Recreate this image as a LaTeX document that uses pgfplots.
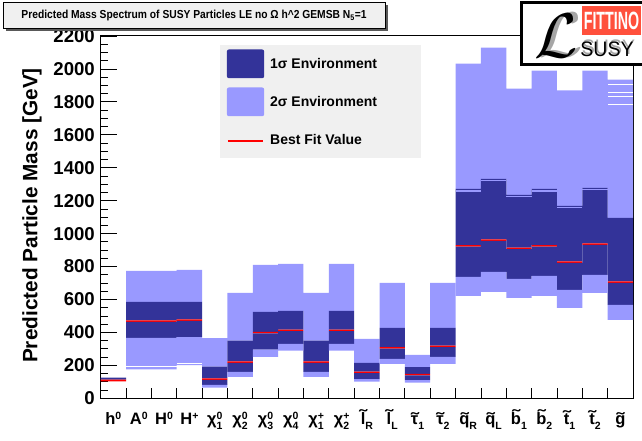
\documentclass[border=0pt]{standalone}
\usepackage{fontspec}
\setmainfont{Liberation Sans}
\usepackage{graphicx}
\usepackage{pgfplots}
\usepackage{pgfplotstable}
\pgfplotsset{compat=1.18}

\definecolor{sigone}{RGB}{51,51,153}
\definecolor{sigtwo}{RGB}{153,153,255}
\definecolor{panel}{RGB}{240,240,240}
\definecolor{logored}{RGB}{255,80,60}

% small raised / lowered indices for the particle names
\newcommand{\sups}[1]{\raisebox{5.5pt}{\fontsize{10.5}{10.5}\selectfont #1}}
\newcommand{\subs}[1]{\raisebox{-4.5pt}{\fontsize{10.5}{10.5}\selectfont #1}}
\newcommand{\ud}[2]{\rlap{\sups{#1}}\subs{#2}}
% superpartner tilde
\newcommand{\tld}[1]{\leavevmode\setbox0=\hbox{#1}%
  \setbox2=\hbox{\scalebox{1.4}[1]{\char"02DC}}%
  \rlap{\hbox to\wd0{\hss\raisebox{\dimexpr\ht0-\fontdimen5\font\relax}{\box2}\hss}}\box0}

% bin, 2-sigma low, 1-sigma low, best fit, 1-sigma high, 2-sigma high,
% drawn thickness of the best-fit line [GeV]
\pgfplotstableread{
bin lo2  lo1  best hi1  hi2  rw
1   103  103  108  125  125  10
2   176  367  468  585  774  9
3   176  367  468  585  774  9
4   202  371  474  585  780  9
5   65   81   117  192  365  9
6   130  160  219  350  640  9
7   251  296  399  525  810  9
8   290  330  413  531  816  9
9   130  160  219  350  640  9
10  290  330  413  531  816  9
11  101  117  158  215  361  9
12  209  239  306  427  701  9
13  95   111  144  190  263  9
14  209  251  316  427  701  9
15  622  738  926  1272 2032 9
16  646  768  960  1333 2130 9
17  610  725  910  1236 1880 9
18  622  743  926  1272 1990 9
19  549  658  827  1169 1870 9
20  640  750  936  1278 1990 9
21  476  567  705  1096 1935 9
}\masses

% empty slices inside the 2-sigma bands
\pgfplotstableread{
bin y
2   193
3   193
4   213
21  1905
21  1854
21  1833
21  1783
}\whitegaps

% 2-sigma slices inside the 1-sigma bands
\pgfplotstableread{
bin y
15  1259
16  1321
17  1224
18  1259
19  1158
20  1269
}\lightgaps

\begin{document}
\begin{tikzpicture}[x=1pt,y=1pt]
\useasboundingbox (0,0) rectangle (642,441);
\pgfplotsset{massframe/.style={
  scale only axis, width=532.3pt, height=362.3pt,
  at={(100.7pt,42.7pt)}, anchor=south west,
  xmin=0.5, xmax=21.5, ymin=0, ymax=2200}}

\begin{axis}[massframe,
  ybar stacked, bar width=1,
  axis line style={line width=1pt},
  tick style={black, line width=0.8pt},
  tick align=inside, tick pos=left,
  major tick length=16pt, minor tick length=7.3pt,
  xtick={0.5,1.5,...,21.5},
  xtick style={/pgfplots/major tick length=10.7pt},
  x tick label as interval,
  xticklabels={h\sups{0}, A\sups{0}, H\sups{0}, H\sups{+},
    χ\ud{0}{1}, χ\ud{0}{2}, χ\ud{0}{3}, χ\ud{0}{4}, χ\ud{+}{1}, χ\ud{+}{2},
    \tld{l}\subs{R}, \tld{l}\subs{L}, \tld{τ}\subs{1}, \tld{τ}\subs{2},
    \tld{q}\subs{R}, \tld{q}\subs{L}, \tld{b}\subs{1}, \tld{b}\subs{2},
    \tld{t}\subs{1}, \tld{t}\subs{2}, \tld{g}},
  xticklabel style={font=\bfseries\fontsize{16.5}{16.5}\selectfont, anchor=base, yshift=-26.7pt, inner sep=0pt},
  ytick={0,200,...,2200},
  minor y tick num=3,
  /pgf/number format/assume math mode=true,
  /pgf/number format/1000 sep={},
  yticklabel style={font=\bfseries\fontsize{18.6}{18.6}\selectfont, inner sep=0pt, xshift=-5.7pt},
  ylabel={Predicted Particle Mass [GeV]},
  every axis y label/.style={at={(axis description cs:-0.1191,0.5046)}, rotate=90, anchor=base,
    font=\bfseries\fontsize{20.8}{20.8}\selectfont},
  legend style={at={(axis description cs:0.2241,0.9752)}, anchor=north west,
    fill=panel, draw=none, inner xsep=6.7pt, inner ysep=4.3pt,
    row sep=9.3pt, column sep=6pt, nodes={inner sep=0pt},
    font=\bfseries\fontsize{14}{14}\selectfont},
  legend cell align=left,
]
% floating bands: invisible base, 2-sigma, 1-sigma, best fit, 1-sigma, 2-sigma
\addplot[draw=none, fill=none, forget plot] table[x=bin, y=lo2] {\masses};
\addplot[draw=none, fill=sigtwo, forget plot] table[x=bin, y expr=\thisrow{lo1}-\thisrow{lo2}] {\masses};
\addplot[draw=none, fill=sigone, forget plot] table[x=bin, y expr=\thisrow{best}-0.5*\thisrow{rw}-\thisrow{lo1}] {\masses};
\addplot[draw=none, fill=red, forget plot] table[x=bin, y=rw] {\masses};
\addplot[draw=none, fill=sigone, forget plot] table[x=bin, y expr=\thisrow{hi1}-\thisrow{best}-0.5*\thisrow{rw}] {\masses};
\addplot[draw=none, fill=sigtwo, forget plot] table[x=bin, y expr=\thisrow{hi2}-\thisrow{hi1}] {\masses};

\addlegendimage{legend image code/.code={\path[draw=none, fill=sigone, rounded corners=2pt] (0pt,-14.35pt) rectangle (37.3pt,14.35pt);}}
\addlegendentry{\makebox[144pt][l]{1σ Environment}}
\addlegendimage{legend image code/.code={\path[draw=none, fill=sigtwo, rounded corners=2pt] (0pt,-14.35pt) rectangle (37.3pt,14.35pt);}}
\addlegendentry{\makebox[144pt][l]{2σ Environment}}
\addlegendimage{legend image code/.code={\path[draw=none, fill=none] (0pt,-14.35pt) rectangle (37.3pt,14.35pt); \path[draw=red, fill=none, line width=2pt] (1pt,-1.3pt) -- (36pt,-1.3pt);}}
\addlegendentry{\makebox[144pt][l]{Best Fit Value}}
\end{axis}

% thin slices inside the bands, one bin wide each
\begin{axis}[massframe, hide axis]
\addplot[only marks, mark=-, mark size=12.675pt,
  mark options={draw=white, line width=1pt, line cap=butt}] table[x=bin, y=y] {\whitegaps};
\addplot[only marks, mark=-, mark size=12.675pt,
  mark options={draw=sigtwo, line width=1.4pt, line cap=butt}] table[x=bin, y=y] {\lightgaps};
\end{axis}

% title panel
\fill[black!65] (5.8,410) rectangle (387.5,435.6);
\filldraw[fill=panel, draw=black, line width=0.8pt] (3.3,412.7) rectangle (385,438.3);
\node[font=\bfseries\fontsize{11.6}{11.6}\selectfont, inner sep=0pt] at (194,425.5)
  {\resizebox{345pt}{\height}{Predicted Mass Spectrum of SUSY Particles LE no Ω h\textasciicircum 2 GEMSB N\textsubscript{5}=1}};

% logo
\filldraw[fill=white, draw=black, line width=2.7pt] (521.3,376.5) rectangle (643,438.8);
\fill[logored] (581.7,406) rectangle (641,435);
\node[white, inner sep=0pt, font=\bfseries\fontsize{25}{25}\selectfont] at (611.5,420.5) {\scalebox{0.57}[1]{FITTINO}};
\node[black!35, inner sep=0pt, font=\fontsize{21}{21}\selectfont] at (608.5,393.5) {\scalebox{0.93}[1]{SUSY}};
\node[black, inner sep=0pt, font=\fontsize{21}{21}\selectfont] at (607,392) {\scalebox{0.93}[1]{SUSY}};
\node[black!35, inner sep=0pt] at (561,406) {\scalebox{6.3}{$\mathcal{L}$}};
\node[black, inner sep=0pt] at (556,405) {\scalebox{6.3}{$\mathcal{L}$}};
\end{tikzpicture}
\end{document}
